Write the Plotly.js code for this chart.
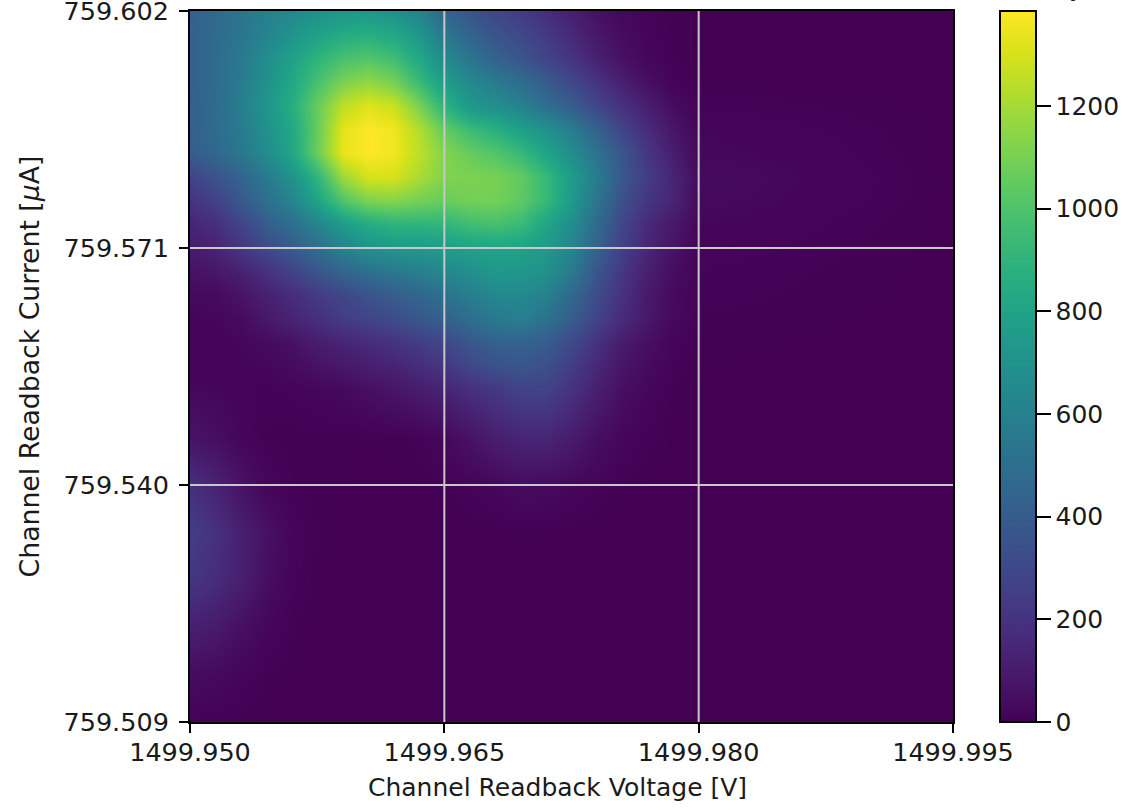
<!DOCTYPE html>
<html><head><meta charset="utf-8">
<script src="https://cdn.plot.ly/plotly-3.0.1.min.js"></script>
<style>html,body{margin:0;padding:0;background:#fff;overflow:hidden}#c{width:1139px;height:810px}</style>
</head><body><div id="c"></div>
<script>
const voltage = [1499.9500,1499.9515,1499.9530,1499.9545,1499.9560,1499.9575,1499.9590,1499.9605,1499.9620,1499.9635,1499.9650,1499.9665,1499.9680,1499.9695,1499.9710,1499.9725,1499.9740,1499.9755,1499.9770,1499.9785,1499.9800,1499.9950];
const current = [759.6020,759.5989,759.5958,759.5927,759.5896,759.5865,759.5834,759.5803,759.5772,759.5741,759.5710,759.5679,759.5648,759.5617,759.5586,759.5555,759.5524,759.5462,759.5400,759.5338,759.5276,759.5214,759.5152,759.5090];
const counts = [
 [420,470,530,590,640,690,725,730,690,610,450,350,290,235,175,115,55,25,10,3,1,0],
 [430,480,540,620,710,790,850,870,830,730,560,440,360,300,230,155,85,40,15,5,1,0],
 [430,480,560,670,790,900,980,1010,960,830,650,530,430,360,280,200,120,60,20,6,1,0],
 [430,480,570,690,830,980,1110,1160,1100,940,770,650,570,490,400,300,200,115,50,12,2,0],
 [420,480,590,720,860,1060,1250,1320,1280,1110,900,730,680,610,500,400,290,190,110,40,10,0],
 [420,480,570,690,830,1060,1330,1385,1360,1230,1060,950,880,780,700,580,430,280,170,80,20,0],
 [400,460,550,660,820,1070,1340,1385,1360,1250,1130,1060,1010,930,810,670,520,360,210,110,25,0],
 [280,350,440,560,700,900,1180,1300,1300,1210,1120,1110,1100,1050,930,750,570,380,240,140,35,0],
 [200,260,380,500,620,800,1000,1110,1130,1090,1060,1090,1090,1040,930,740,530,340,210,135,30,0],
 [140,180,280,400,500,620,760,850,900,900,910,960,980,940,810,670,470,290,160,90,20,0],
 [100,130,210,300,390,490,610,700,730,740,760,790,800,790,740,620,430,260,140,65,15,0],
 [60,80,120,190,270,360,440,500,550,590,640,680,730,730,690,560,360,220,110,45,10,0],
 [30,35,70,120,170,235,290,350,400,450,510,590,640,650,600,460,320,190,90,35,8,0],
 [15,20,40,85,135,180,240,280,320,370,420,490,555,590,520,400,275,165,85,30,5,0],
 [15,15,20,35,60,105,135,165,195,240,290,370,420,430,400,300,190,100,50,15,3,0],
 [15,15,15,20,35,60,85,110,130,170,210,290,340,360,330,240,150,75,35,10,2,0],
 [25,20,12,8,12,20,30,50,75,100,130,180,220,270,270,195,115,50,20,5,0,0],
 [70,50,20,5,3,2,2,2,3,8,25,65,110,140,140,100,50,20,8,1,0,0],
 [185,130,65,20,5,3,2,1,1,1,3,12,22,40,35,22,10,3,1,0,0,0],
 [250,190,120,60,18,5,1,0,0,0,0,0,1,3,2,1,0,0,0,0,0,0],
 [215,170,115,50,12,3,0,0,0,0,0,0,0,0,0,0,0,0,0,0,0,0],
 [120,95,55,22,6,1,0,0,0,0,0,0,0,0,0,0,0,0,0,0,0,0],
 [40,32,15,5,1,0,0,0,0,0,0,0,0,0,0,0,0,0,0,0,0,0],
 [8,6,3,1,0,0,0,0,0,0,0,0,0,0,0,0,0,0,0,0,0,0]
];
const xTicks = [1499.950,1499.965,1499.980,1499.995];
const xTickText = ["1499.950","1499.965","1499.980","1499.995"];
const yTicks = [759.509,759.540,759.571,759.602];
const yTickText = ["759.509","759.540","759.571","759.602"];
const cbTicks = [0,200,400,600,800,1000,1200];
const xTitle = "Channel Readback Voltage [V]";
const yTitle = "Channel Readback Current [<i>μ</i>A]";
const cbTitle = "Probability";

const F = {family:"DejaVu Sans", size:25, color:"#1a1a1a"};
const TF = Object.assign({},F,{size:25.5});
const gridStyle = {color:"#c8c8c8", width:2};
const shapes = [];
xTicks.slice(1,-1).forEach(v=>shapes.push({type:"line",layer:"above",xref:"x",yref:"paper",x0:v,x1:v,y0:0,y1:1,line:gridStyle}));
yTicks.slice(1,-1).forEach(v=>shapes.push({type:"line",layer:"above",xref:"paper",yref:"y",x0:0,x1:1,y0:v,y1:v,line:gridStyle}));

const trace = {type:"heatmap",x:voltage,y:current,z:counts,zsmooth:"best",colorscale:"Viridis",zmin:0,zmax:1385,hoverinfo:"skip",
 colorbar:{x:1.0616,xanchor:"left",xref:"paper",y:0,yanchor:"bottom",yref:"paper",len:1,lenmode:"fraction",thickness:36,thicknessmode:"pixels",xpad:0,ypad:0,
  outlinecolor:"#000",outlinewidth:2,borderwidth:0,tickmode:"array",tickvals:cbTicks,ticktext:cbTicks.map(String),ticks:"outside",ticklen:14,tickwidth:2,tickcolor:"#000",tickfont:F}};
const axis = {showgrid:false,zeroline:false,showline:true,mirror:true,linecolor:"#000",linewidth:2,ticks:"outside",ticklen:9,tickwidth:2,tickcolor:"#000",tickfont:TF,tickmode:"array",ticklabeloverflow:"allow"};
const layout = {width:1139,height:810,paper_bgcolor:"#fff",plot_bgcolor:"#fff",margin:{l:190,r:186,t:11,b:88,pad:0},font:F,shapes,
 xaxis:Object.assign({},axis,{range:[1499.950,1499.995],tickvals:xTicks,ticktext:xTickText,ticklabelstandoff:-3}),
 yaxis:Object.assign({},axis,{range:[759.509,759.602],tickvals:yTicks,ticktext:yTickText,ticklabelstandoff:5,title:{text:yTitle,font:Object.assign({},F,{size:26.7}),standoff:16}}),
 annotations:[
  {text:xTitle,xref:"paper",yref:"paper",x:0.481,y:-0.0928,xanchor:"center",yanchor:"middle",showarrow:false,font:F},
  {text:cbTitle,xref:"paper",yref:"paper",x:1.0852,y:1.0105,xanchor:"center",yanchor:"bottom",showarrow:false,font:F}
 ]};
Plotly.newPlot("c",[trace],layout,{displayModeBar:false,staticPlot:true});
</script></body></html>
